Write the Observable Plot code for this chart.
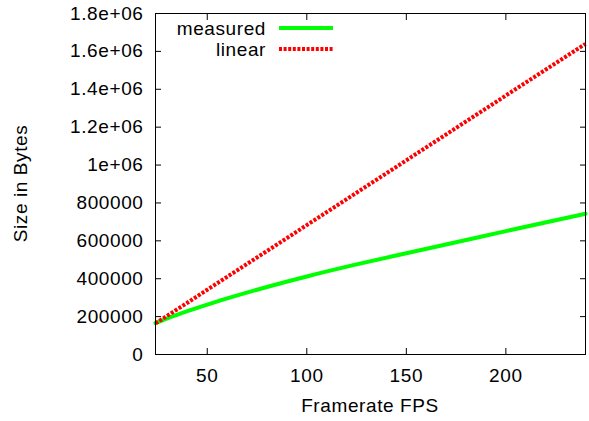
<!DOCTYPE html>
<html>
<head>
<meta charset="utf-8">
<script src="https://cdn.jsdelivr.net/npm/d3@7"></script>
<script src="https://cdn.jsdelivr.net/npm/@observablehq/plot@0.6"></script>
<style>
  html, body { margin: 0; padding: 0; background: #fff; }
  svg text { font-family: "Liberation Sans", Arial, sans-serif; letter-spacing: 0.6px; }
</style>
</head>
<body>
<div id="chart"></div>
<script>
const fps = [24, 30, 40, 50, 60, 75, 100, 125, 150, 175, 200, 240];
const measured = [165500, 190500, 228500, 263500, 296000, 342000, 412000, 475500, 534500, 592500, 651500, 743000];
const linear = [164000, 205000, 273000, 342000, 410000, 512000, 683000, 854000, 1025000, 1196000, 1367000, 1640000];
const seriesNames = ["measured", "linear"];
const xTicks = [50, 100, 150, 200];
const yTicks = [0, 200000, 400000, 600000, 800000, 1000000, 1200000, 1400000, 1600000, 1800000];
const yTickLabels = ["0", "200000", "400000", "600000", "800000", "1e+06", "1.2e+06", "1.4e+06", "1.6e+06", "1.8e+06"];
const xLabel = "Framerate FPS";
const yLabel = "Size in Bytes";

const colors = { measured: "#00ff00", linear: "#ff0000" };
const dash = { measured: null, linear: "3,1.6" };

const rows = [];
fps.forEach((f, i) => {
  rows.push({ fps: f, size: measured[i], series: "measured" });
  rows.push({ fps: f, size: linear[i], series: "linear" });
});

const W = 589, H = 421;
const M = { left: 155, right: 4, top: 13, bottom: 67 };
const FS = 19;
const blank = () => "";

const chart = Plot.plot({
  width: W,
  height: H,
  marginLeft: M.left,
  marginRight: M.right,
  marginTop: M.top,
  marginBottom: M.bottom,
  style: { fontSize: FS + "px", fontFamily: "Liberation Sans, Arial, sans-serif", color: "#000", background: "#fff" },
  x: { domain: [24, 240] },
  y: { domain: [0, 1800000] },
  marks: [
    // inward ticks on all four sides
    Plot.axisX(xTicks, { anchor: "bottom", tickSize: -6, tickFormat: blank, label: null, stroke: "#000" }),
    Plot.axisX(xTicks, { anchor: "top", tickSize: -6, tickFormat: blank, label: null, stroke: "#000" }),
    Plot.axisY(yTicks, { anchor: "left", tickSize: -6, tickFormat: blank, label: null, stroke: "#000" }),
    Plot.axisY(yTicks, { anchor: "right", tickSize: -6, tickFormat: blank, label: null, stroke: "#000" }),
    // tick labels
    Plot.axisX(xTicks, { anchor: "bottom", tickSize: 0, tickPadding: 14, label: null, fill: "#000" }),
    Plot.axisY(yTicks, { anchor: "left", tickSize: 0, tickPadding: 12, label: null, fill: "#000",
      tickFormat: d => yTickLabels[yTicks.indexOf(d)] }),
    Plot.line(rows.filter(d => d.series === "measured"), {
      x: "fps", y: "size", stroke: colors.measured, strokeWidth: 4, curve: "monotone-x"
    }),
    Plot.line(rows.filter(d => d.series === "linear"), {
      x: "fps", y: "size", stroke: colors.linear, strokeWidth: 4, strokeDasharray: dash.linear, strokeLinecap: "butt"
    }),
    Plot.frame({ stroke: "#000", strokeWidth: 1 })
  ]
});

document.getElementById("chart").appendChild(chart);

const svg = d3.select(chart.tagName.toLowerCase() === "svg" ? chart : chart.querySelector("svg"));
const plotCx = M.left + (W - M.left - M.right) / 2;
const plotCy = M.top + (H - M.top - M.bottom) / 2;

// axis titles
svg.append("text")
  .attr("x", plotCx).attr("y", 412)
  .attr("text-anchor", "middle")
  .attr("font-size", FS).attr("fill", "#000")
  .text(xLabel);
svg.append("text")
  .attr("transform", `translate(27,${plotCy}) rotate(-90)`)
  .attr("text-anchor", "middle")
  .attr("font-size", FS).attr("fill", "#000")
  .text(yLabel);

// legend
const legend = svg.append("g");
seriesNames.forEach((name, i) => {
  const y = 28 + i * 21;
  legend.append("text")
    .attr("x", 266).attr("y", y).attr("dy", "0.35em")
    .attr("text-anchor", "end").attr("font-size", FS).attr("fill", "#000")
    .text(name);
  legend.append("line")
    .attr("x1", 279).attr("x2", 333).attr("y1", y).attr("y2", y)
    .attr("stroke", colors[name]).attr("stroke-width", 4)
    .attr("stroke-dasharray", dash[name]);
});
</script>
</body>
</html>
